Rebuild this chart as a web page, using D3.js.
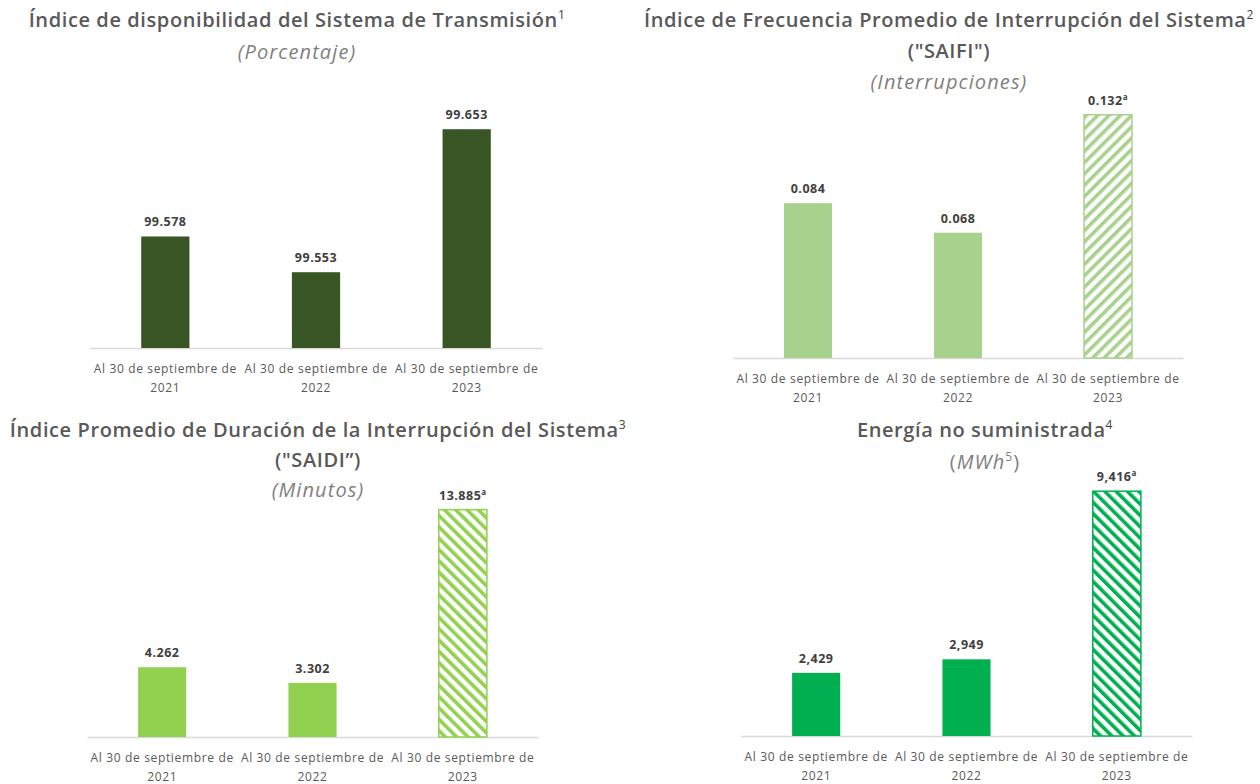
<!DOCTYPE html>
<html>
<head>
<meta charset="utf-8">
<script src="https://cdn.jsdelivr.net/npm/d3@7"></script>
<style>
	body { margin: 0; background: #fff; }
	svg { display: block; }
</style>
</head>
<body>
<svg class="chart" width="1260" height="784"></svg>
<script>
/** DATA **/
let years = ['2021', '2022', '2023'];
let labelPrefix = 'Al 30 de septiembre de';
let disponibilidad = [99.578, 99.553, 99.653];
let saifi = [0.084, 0.068, 0.132];
let saidi = [4.262, 3.302, 13.885];
let energia = [2429, 2949, 9416];
// last year is flagged with footnote "a" and drawn hatched
let flagged = [false, false, true];

/** PANELS **/
let panels = [
	{
		values: disponibilidad, fmt: d3.format('.3f'), color: '#375623', hatch: null,
		domain: [99.5, 99.7], x0: 90, x1: 542, base: 348, top: 62,
		cx: 297, titles: [{y: 20, text: 'Índice de disponibilidad del Sistema de Transmisión', sup: '1'}],
		sub: {y: 52, parts: [{t: '(Porcentaje)', it: true}]}
	},
	{
		values: saifi, fmt: d3.format('.3f'), color: '#a9d18e', hatch: 45,
		domain: [0, 0.14], x0: 733, x1: 1183, base: 358, top: 100,
		cx: 949, titles: [{y: 20, text: 'Índice de Frecuencia Promedio de Interrupción del Sistema', sup: '2'},
			{y: 51, text: '("SAIFI")'}],
		sub: {y: 82, parts: [{t: '(Interrupciones)', it: true}]}
	},
	{
		values: saidi, fmt: d3.format('.3f'), color: '#92d050', hatch: -45,
		domain: [0, 16], x0: 87, x1: 538, base: 737, top: 475,
		cx: 318, titles: [{y: 430, text: 'Índice Promedio de Duración de la Interrupción del Sistema', sup: '3'},
			{y: 460, text: '("SAIDI”)'}],
		sub: {y: 490, parts: [{t: '(Minutos)', it: true}]}
	},
	{
		values: energia, fmt: d3.format(',.0f'), color: '#00b050', hatch: -45,
		domain: [0, 10000], x0: 741, x1: 1192, base: 736, top: 476,
		cx: 985, titles: [{y: 430, text: 'Energía no suministrada', sup: '4'}],
		sub: {y: 462, parts: [{t: '('}, {t: 'MWh', it: true}, {t: '5', sup: true}, {t: ')'}]}
	}
];

let font = '"Open Sans", Lato, sans-serif';
let svg = d3.select('.chart');
let defs = svg.append('defs');

panels.forEach(function(p, i) { drawPanel(p, i); });

function drawPanel(p, idx) {
	let g = svg.append('g').attr('class', 'panel-' + idx);

	let x = d3.scaleBand()
		.domain(years)
		.range([p.x0, p.x1])
		.paddingInner(0.68)
		.paddingOuter(0.34);
	let y = d3.scaleLinear().domain(p.domain).range([p.base, p.top]);

	// hatch pattern for flagged bar
	let patId = 'hatch-' + idx;
	if (p.hatch !== null) {
		let pat = defs.append('pattern')
			.attr('id', patId)
			.attr('patternUnits', 'userSpaceOnUse')
			.attr('width', 8)
			.attr('height', 8)
			.attr('patternTransform', 'rotate(' + p.hatch + ')');
		pat.append('rect').attr('width', 8).attr('height', 8).attr('fill', '#fff');
		pat.append('rect').attr('width', 3.6).attr('height', 8).attr('fill', p.color);
	}

	// titles
	p.titles.forEach(function(t) {
		let txt = g.append('text')
			.attr('x', p.cx)
			.attr('y', t.y)
			.attr('dy', '0.35em')
			.attr('text-anchor', 'middle')
			.style('font', '600 20px ' + font)
			.style('letter-spacing', '0.6px')
			.style('fill', '#595959')
			.text(t.text);
		if (t.sup) {
			txt.append('tspan')
				.attr('baseline-shift', 'super')
				.style('font-size', '12px')
				.style('font-weight', 'normal')
				.style('fill', '#404040')
				.text(t.sup);
		}
	});

	// subtitle
	let sub = g.append('text')
		.attr('x', p.cx)
		.attr('y', p.sub.y)
		.attr('dy', '0.35em')
		.attr('text-anchor', 'middle')
		.style('font', '20px ' + font)
		.style('letter-spacing', '1.1px')
		.style('fill', '#7f7f7f');
	p.sub.parts.forEach(function(s) {
		let ts = sub.append('tspan').text(s.t);
		if (s.it) ts.style('font-style', 'italic');
		if (s.sup) ts.attr('baseline-shift', 'super').style('font-size', '12px');
	});

	// axis line
	let axis = g.append('g')
		.attr('transform', 'translate(0,' + p.base + ')')
		.call(d3.axisBottom(x).tickSize(0).tickPadding(0).tickFormat(''));
	axis.select('.domain').attr('stroke', '#d9d9d9').attr('stroke-width', 1.3);

	// x labels
	axis.selectAll('.tick').each(function(d) {
		let t = d3.select(this).append('text')
			.attr('text-anchor', 'middle')
			.style('font', '12px ' + font)
			.style('letter-spacing', '0.65px')
			.style('fill', '#595959');
		t.append('tspan').attr('x', 0).attr('y', 25).text(labelPrefix);
		t.append('tspan').attr('x', 0).attr('y', 44).text(d);
	});

	// bars
	let data = years.map(function(yr, i) { return {year: yr, value: p.values[i], flag: flagged[i]}; });
	g.selectAll('.bar')
		.data(data)
		.enter()
		.append('rect')
		.attr('class', 'bar')
		.attr('x', function(d) { return x(d.year); })
		.attr('y', function(d) { return y(d.value); })
		.attr('width', x.bandwidth())
		.attr('height', function(d) { return p.base - y(d.value); })
		.attr('fill', function(d) { return (d.flag && p.hatch !== null) ? 'url(#' + patId + ')' : p.color; })
		.attr('stroke', function(d) { return (d.flag && p.hatch !== null) ? p.color : 'none'; })
		.attr('stroke-width', 1.5);

	// value labels
	let lab = g.selectAll('.val')
		.data(data)
		.enter()
		.append('text')
		.attr('class', 'val')
		.attr('x', function(d) { return x(d.year) + x.bandwidth() / 2; })
		.attr('y', function(d) { return y(d.value) - 10; })
		.attr('text-anchor', 'middle')
		.style('font', 'bold 12.5px ' + font)
		.style('letter-spacing', '0.5px')
		.style('fill', '#404040')
		.text(function(d) { return p.fmt(d.value); });
	lab.filter(function(d) { return d.flag && p.hatch !== null; })
		.append('tspan')
		.attr('baseline-shift', 'super')
		.style('font-size', '8px')
		.text('a');
}
</script>
</body>
</html>
